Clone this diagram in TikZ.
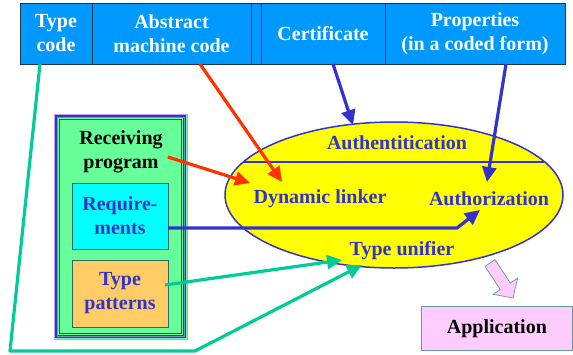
\documentclass[tikz,border=0pt]{standalone}
\usepackage{fontspec}
\setmainfont{Liberation Serif}
\usetikzlibrary{arrows.meta,shapes.geometric}
\definecolor{barblue}{HTML}{0099FF}
\definecolor{barline}{HTML}{1F3550}
\definecolor{txtblue}{HTML}{3333CC}
\definecolor{boxgreen}{HTML}{66FF99}
\definecolor{boxcyan}{HTML}{00FFFF}
\definecolor{boxorange}{HTML}{FFCC66}
\definecolor{ellyellow}{HTML}{FFFF00}
\definecolor{arrred}{HTML}{FF3300}
\definecolor{arrgreen}{HTML}{00CC99}
\definecolor{pinkfill}{HTML}{FFCCFF}
\definecolor{pinkline}{HTML}{669999}
\definecolor{edgegray}{HTML}{336666}
\begin{document}
\begin{tikzpicture}[x=1pt,y=-1pt,
  font=\fontsize{20}{24}\selectfont\bfseries,
  cell/.style={draw=barline, line width=0.8pt, fill=barblue, text=white,
    inner sep=0pt, outer sep=0pt, align=center, anchor=north west, minimum height=61pt},
  inbox/.style={draw=edgegray, line width=0.8pt, inner sep=0pt, outer sep=0pt,
    align=center, anchor=north west, text=txtblue},
  lbl/.style={text=txtblue, inner sep=1pt, align=center},
  arr/.style={line width=3.2pt, -{Triangle[length=15pt,width=14pt]}},
]
\useasboundingbox (0,0) rectangle (573,354);

% top bar
\node[cell, minimum width=72pt]  (tc)   at (20,3)  {Type\\code};
\node[cell, minimum width=159pt] (amc)  at (92,3)  {Abstract\\machine code};
\node[cell, minimum width=10pt]  (gap)  at (251,3) {};
\node[cell, minimum width=124pt] (cert) at (261,3) {Certificate};
\node[cell, minimum width=180pt] (prop) at (385,3) {Properties\\(in a coded form)};

% receiving program box
\node[draw=pinkfill!70!txtblue, line width=0.6pt, fill=boxgreen, anchor=north west,
  minimum width=133pt, minimum height=225pt, inner sep=0pt, outer sep=0pt] (rp) at (54,114) {};
\draw[txtblue, line width=2.2pt] ([shift={(2.5pt,-2.5pt)}]rp.north west) rectangle ([shift={(-2.5pt,2.5pt)}]rp.south east);
\draw[txtblue!60!white, line width=0.6pt] ([shift={(2.8pt,-2.8pt)}]rp.north west) rectangle ([shift={(-2.8pt,2.8pt)}]rp.south east);
\draw[txtblue, line width=0.8pt] ([shift={(5.5pt,-5.5pt)}]rp.north west) rectangle ([shift={(-5.5pt,5.5pt)}]rp.south east);
\node[align=center, inner sep=1pt, text=black] (rptxt) at (121,152) {Receiving\\program};
\node[inbox, fill=boxcyan, minimum width=96pt, minimum height=66pt] (req) at (72,183) {Require-\\ments};
\node[inbox, fill=boxorange, minimum width=96pt, minimum height=67pt] (tp) at (72,260) {Type\\patterns};

% ellipse
\node[ellipse, draw=txtblue, line width=1.5pt, fill=ellyellow, minimum width=338pt,
  minimum height=146pt, inner sep=0pt] (ell) at (394,195) {};
\draw[txtblue, line width=1.5pt] (244,162) -- (544,162);
\node[lbl] (auth)  at (397,143) {Authentitication};
\node[lbl] (dl)    at (320,199) {Dynamic linker};
\node[lbl] (authz) at (489,199) {Authorization};
\node[lbl] (tu)    at (402,251) {Type unifier};

% application
\node[draw=pinkline, line width=0.8pt, fill=pinkfill, anchor=north west, inner sep=0pt,
  minimum width=151pt, minimum height=44pt, text=black] (app) at (421,306) {Application};

% pink block arrow
\draw[pinkline, line width=0.7pt, fill=pinkfill, line join=miter]
  (495.0,259.7) -- (510.3,283.0) -- (517.5,278.3) -- (513,298) -- (493.1,294.3)
  -- (500.3,289.6) -- (485.0,266.3) -- cycle;

% connector end points
\coordinate (amcEnd)  at (282,182);
\coordinate (rpEnd)   at (250,183);
\coordinate (certEnd) at (353,125);
\coordinate (propEnd) at (487,182);
\coordinate (reqBend) at (457,228);
\coordinate (reqEnd)  at (480,210);
\coordinate (tpEnd)   at (342,260);
\coordinate (tcA)     at (10,351);
\coordinate (tcB)     at (195,351);
\coordinate (tcEnd)   at (362,265);

% connectors
\draw[arr, arrred] ([xshift=28.5pt]amc.south) -- (amcEnd);
\draw[arr, arrred] ([shift={(4pt,-5pt)}]rptxt.east) -- (rpEnd);
\draw[arr, txtblue] ([xshift=10pt]cert.south) -- (certEnd);
\draw[arr, txtblue] ([xshift=31pt]prop.south) -- (propEnd);
\draw[arr, txtblue, line join=round] ([yshift=-12pt]req.east) -- (reqBend) -- (reqEnd);
\draw[arr, arrgreen] ([shift={(-3pt,8.5pt)}]tp.east) -- (tpEnd);
\draw[arr, arrgreen, line join=round] ([xshift=-16pt]tc.south) -- (tcA) -- (tcB) -- (tcEnd);
\end{tikzpicture}
\end{document}
